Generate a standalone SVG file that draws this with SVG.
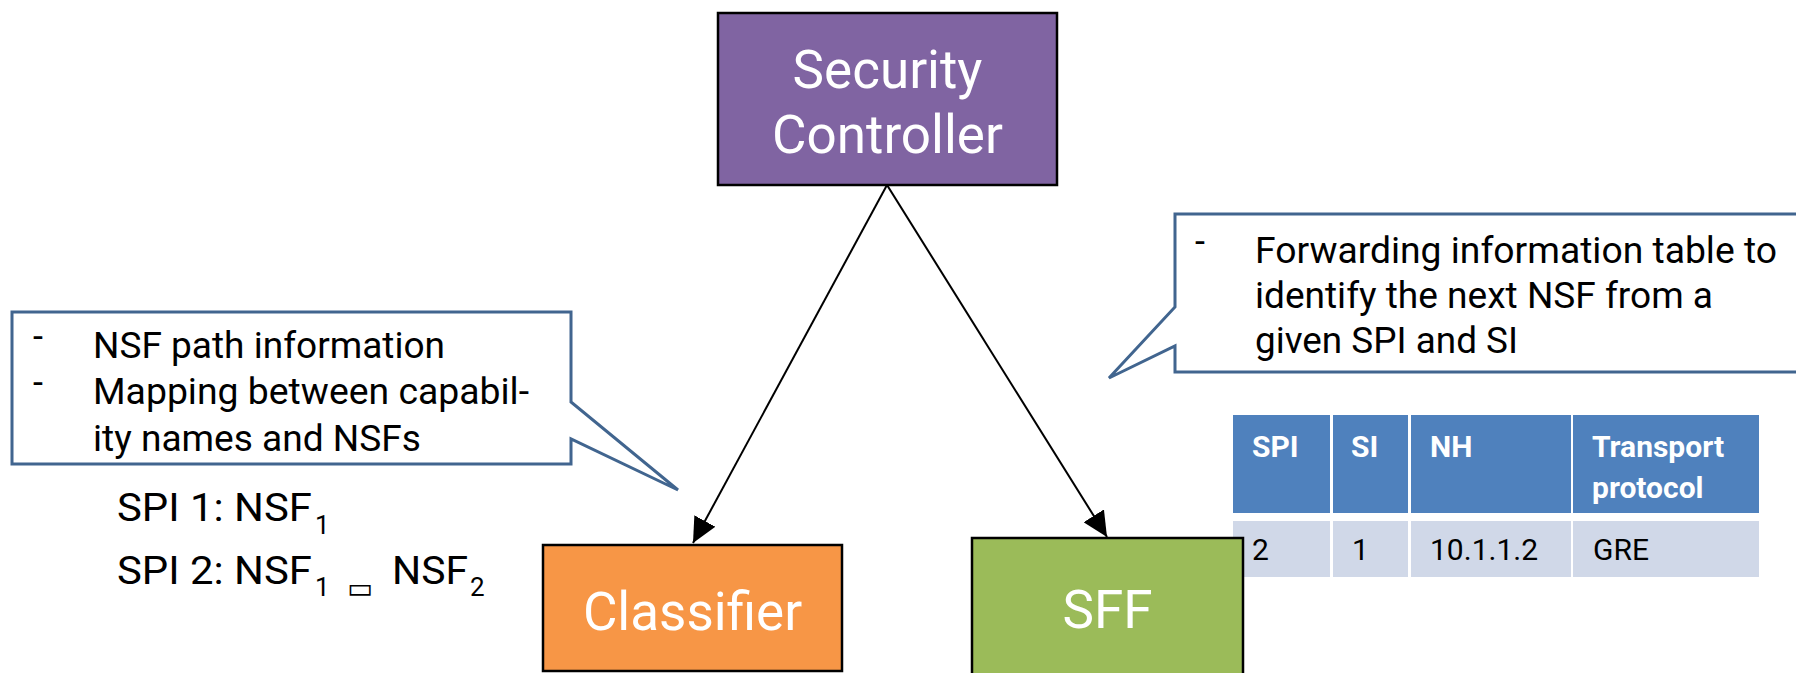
<svg xmlns="http://www.w3.org/2000/svg" width="1796" height="673" viewBox="0 0 1796 673">
<style>
.box{stroke:#000;stroke-width:2.5}
.lbl{font-family:Roboto,"Liberation Sans",sans-serif;font-size:53px;fill:#fff;text-anchor:middle}
.callout{fill:#fff;stroke:#41658F;stroke-width:3;stroke-linejoin:miter}
.ct{font-family:Roboto,"Liberation Sans",sans-serif;font-size:36px;fill:#000}
.spi{font-family:Roboto,"Liberation Sans",sans-serif;font-size:39px;fill:#000}
.sub{font-family:Roboto,"Liberation Sans",sans-serif;font-size:26px;fill:#000}
.th{fill:#4F81BD}
.td{fill:#D0D8E8}
.tht{font-family:Roboto,"Liberation Sans",sans-serif;font-size:30px;font-weight:bold;fill:#fff}
.tdt{font-family:Roboto,"Liberation Sans",sans-serif;font-size:30px;fill:#000}
.conn{stroke:#000;stroke-width:2;fill:none}
</style>
<defs>
<marker id="arr" viewBox="0 0 25 24" refX="25" refY="12" markerWidth="25" markerHeight="24" markerUnits="userSpaceOnUse" orient="auto">
<path d="M0,0 L25,12 L0,24 z" fill="#000"/>
</marker>
</defs>

<g id="security-controller">
<rect class="box" x="718" y="13" width="339" height="172" fill="#8064A2"/>
<text class="lbl" x="887.5" y="88">Security</text>
<text class="lbl" x="887.5" y="153">Controller</text>
</g>

<g id="callout-left">
<path class="callout" d="M12,312 L571,312 L571,402 L678,490 L571,439 L571,464 L12,464 Z"/>
<text class="ct" x="33" y="349">-</text>
<text class="ct" x="93" y="358" textLength="352" lengthAdjust="spacingAndGlyphs">NSF path information</text>
<text class="ct" x="33" y="395">-</text>
<text class="ct" x="93" y="404" textLength="436" lengthAdjust="spacingAndGlyphs">Mapping between capabil-</text>
<text class="ct" x="93" y="451" textLength="328" lengthAdjust="spacingAndGlyphs">ity names and NSFs</text>
</g>

<g id="callout-right">
<path class="callout" d="M1175,214 L1810,214 L1810,372 L1175,372 L1175,346 L1109,378 L1175,307 Z"/>
<text class="ct" x="1195" y="254">-</text>
<text class="ct" x="1255" y="263" textLength="522" lengthAdjust="spacingAndGlyphs">Forwarding information table to</text>
<text class="ct" x="1255" y="308" textLength="458" lengthAdjust="spacingAndGlyphs">identify the next NSF from a</text>
<text class="ct" x="1255" y="353" textLength="263" lengthAdjust="spacingAndGlyphs">given SPI and SI</text>
</g>

<g id="spi-list">
<text class="spi" x="117" y="521" textLength="195" lengthAdjust="spacingAndGlyphs">SPI 1: NSF</text>
<text class="sub" x="315" y="534">1</text>
<text class="spi" x="117" y="584" textLength="195" lengthAdjust="spacingAndGlyphs">SPI 2: NSF</text>
<text class="sub" x="315" y="596">1</text>
<text x="347" y="598" font-family="'DejaVu Sans',sans-serif" font-size="30" textLength="26" lengthAdjust="spacingAndGlyphs">▭</text>
<text class="spi" x="392" y="584" textLength="76" lengthAdjust="spacingAndGlyphs">NSF</text>
<text class="sub" x="470" y="596">2</text>
</g>

<g id="table">
<rect class="th" x="1233" y="415" width="97" height="98"/>
<rect class="th" x="1333" y="415" width="75" height="98"/>
<rect class="th" x="1411" y="415" width="160" height="98"/>
<rect class="th" x="1573" y="415" width="186" height="98"/>
<rect class="td" x="1233" y="521" width="97" height="56"/>
<rect class="td" x="1333" y="521" width="75" height="56"/>
<rect class="td" x="1411" y="521" width="160" height="56"/>
<rect class="td" x="1573" y="521" width="186" height="56"/>
<text class="tht" x="1252" y="457">SPI</text>
<text class="tht" x="1351" y="457">SI</text>
<text class="tht" x="1430" y="457">NH</text>
<text class="tht" x="1592" y="457">Transport</text>
<text class="tht" x="1592" y="498">protocol</text>
<text class="tdt" x="1252" y="560">2</text>
<text class="tdt" x="1352" y="560">1</text>
<text class="tdt" x="1430" y="560">10.1.1.2</text>
<text class="tdt" x="1593" y="560">GRE</text>
</g>

<g id="classifier">
<rect class="box" x="543" y="545" width="299" height="126" fill="#F79646"/>
<text class="lbl" x="692.5" y="630">Classifier</text>
</g>

<g id="sff">
<rect class="box" x="972" y="538" width="271" height="160" fill="#9BBB59"/>
<text class="lbl" x="1107.5" y="628">SFF</text>
</g>

<g id="connectors">
<line class="conn" x1="887" y1="185" x2="693" y2="543" marker-end="url(#arr)"/>
<line class="conn" x1="887" y1="185" x2="1107" y2="537" marker-end="url(#arr)"/>
</g>
</svg>
